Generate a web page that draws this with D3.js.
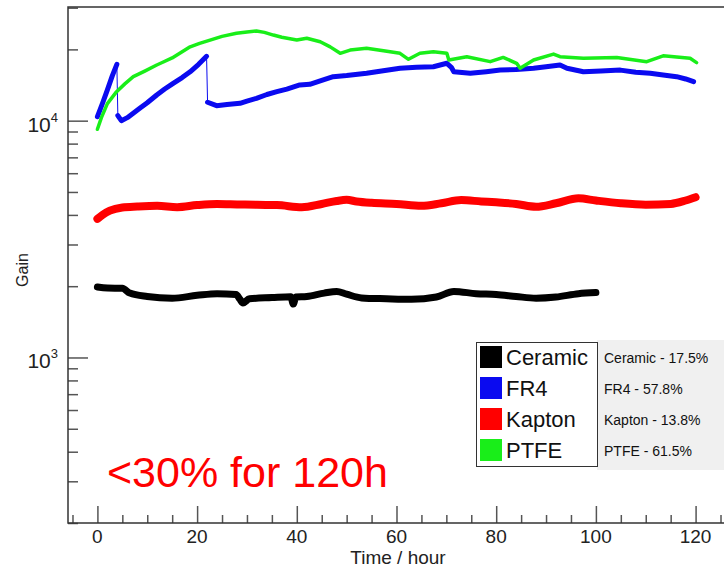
<!DOCTYPE html>
<html>
<head>
<meta charset="utf-8">
<script src="https://cdn.jsdelivr.net/npm/d3@7"></script>
<style>
  body { margin: 0; background: #fff; }
  svg { display: block; font-family: "Liberation Sans", Arial, sans-serif; }
</style>
</head>
<body>
<div id="chart"></div>
<script>

// series (hours, gain)
var ceramicHours = [0, 2, 5, 6.5, 10, 15, 20, 24, 27.8, 28.6, 29.2, 30.5, 35, 38.8, 39.3, 39.8, 42, 45.5, 48, 50, 53, 58, 63, 68, 71.5, 76, 80, 84, 88, 92, 96.5, 100];
var ceramicGain  = [1985, 1965, 1960, 1870, 1810, 1780, 1830, 1860, 1845, 1760, 1700, 1770, 1790, 1805, 1680, 1800, 1810, 1870, 1900, 1850, 1785, 1770, 1760, 1800, 1900, 1860, 1845, 1810, 1780, 1800, 1860, 1880];

var fr4Hours = [0, 1, 2, 3, 3.9, 4.1, 4.8, 6, 8.5, 10, 11.9, 13.5, 15.2, 17, 18.6, 20.3, 21.9,
                22.1, 23.9, 26, 28.6, 30, 31.9, 34, 36, 38, 40.6, 42.6, 45, 47.3, 50, 54, 57, 60.7, 64, 67.4, 70.1, 71, 71.5, 74.8, 78, 80.8, 84, 87.5, 90, 92.8, 94.2, 97.5, 101, 104.9, 108, 110.9, 113.5, 116.2, 118, 119.6];
var fr4Gain  = [10400, 11800, 13500, 15500, 17300, 10500, 10000, 10300, 11280, 11900, 12840, 13600, 14380, 15200, 16090, 17300, 18700,
                11960, 11570, 11700, 11840, 12100, 12430, 12900, 13260, 13600, 14150, 14240, 14800, 15340, 15500, 15850, 16200, 16640, 16800, 16900, 17470, 16800, 16100, 15850, 16100, 16350, 16450, 16640, 16900, 17180, 16640, 16090, 16200, 16350, 16000, 15850, 15600, 15340, 15000, 14610];
// hours where the FR4 curve jumps (drawn as a thin connector)
var fr4Jumps = [4, 22];

var kaptonHours = [0, 1, 2.5, 5, 8, 12, 16, 20, 24, 28, 32, 36, 41, 45, 48, 50, 52, 55, 60, 65, 69, 73, 77, 80, 84, 88, 92, 96.5, 100, 105, 110, 115, 118, 120];
var kaptonGain  = [3850, 4000, 4170, 4300, 4340, 4370, 4310, 4400, 4450, 4430, 4410, 4400, 4310, 4450, 4580, 4630, 4560, 4500, 4450, 4370, 4480, 4620, 4560, 4520, 4450, 4330, 4480, 4700, 4600, 4480, 4420, 4450, 4600, 4750];

var ptfeHours = [0, 0.8, 2, 3.85, 5.5, 7.2, 9.5, 11.9, 13, 15, 18.6, 20.5, 22.6, 25, 27.9, 30, 31.9, 33.5, 35.3, 37, 40, 42, 44.7, 46.7, 48.7, 50.7, 54, 57.4, 60.7, 62.4, 64.7, 67.4, 70.1, 70.5, 74.1, 78.8, 81.4, 84.1, 84.8, 87.5, 91.5, 92.8, 97.5, 104.2, 110.2, 113.5, 118.9, 120.2];
var ptfeGain  = [9200, 10300, 11800, 13260, 14300, 15340, 16200, 17180, 17600, 18400, 20510, 21200, 21900, 22700, 23380, 23700, 23900, 23600, 22990, 22500, 21900, 22300, 21540, 20500, 19250, 19870, 20210, 19740, 19250, 18160, 19250, 19550, 19250, 18050, 18620, 17750, 18500, 17470, 16640, 18030, 19110, 18620, 18340, 18500, 17750, 18790, 18340, 17580];

var seriesNames  = ["Ceramic", "FR4", "Kapton", "PTFE"];
var seriesColors = ["#000000", "#0a0af0", "#ff0000", "#19ee19"];
var variations   = ["Ceramic - 17.5%", "FR4 - 57.8%", "Kapton - 13.8%", "PTFE - 61.5%"];

var xMajor = [0, 20, 40, 60, 80, 100, 120];
var yMajor = [1000, 10000];
var note = "<30% for 120h";

var width = 724, height = 570;
var plotLeft = 68, plotTop = 7, plotBottom = 523;

var svg = d3.select("#chart").append("svg")
    .attr("width", width)
    .attr("height", height);

var x = d3.scaleLinear().domain([-5.9, 125.7]).range([plotLeft, width]);
var y = d3.scaleLog().domain([200, 30200]).range([plotBottom, plotTop]);

function zip(h, g) { return h.map(function(d, i) { return {h: d, g: g[i]}; }); }

var series = [
    {name: "Ceramic", pts: zip(ceramicHours, ceramicGain), w: 7, curve: d3.curveMonotoneX},
    {name: "FR4", pts: zip(fr4Hours, fr4Gain), w: 5, curve: d3.curveLinear},
    {name: "Kapton", pts: zip(kaptonHours, kaptonGain), w: 8, curve: d3.curveMonotoneX},
    {name: "PTFE", pts: zip(ptfeHours, ptfeGain), w: 3.5, curve: d3.curveLinear}
];

// red note behind data
svg.append("text")
    .attr("x", 107).attr("y", 487)
    .style("font-size", "43px")
    .style("fill", "#ff0000")
    .text(note);

// lines
series.forEach(function(s, i) {
    var color = seriesColors[i];
    var line = d3.line().curve(s.curve)
        .x(function(d) { return x(d.h); })
        .y(function(d) { return y(d.g); });
    var segs = [s.pts];
    if (s.name == "FR4") {
        // thin connector across the jumps, thick pieces between
        svg.append("path").attr("d", d3.line().x(function(d){return x(d.h);}).y(function(d){return y(d.g);})(s.pts))
            .attr("fill", "none").attr("stroke", color).attr("stroke-width", 1);
        segs = [];
        var edges = [-1].concat(fr4Jumps).concat([999]);
        for (var k = 0; k < edges.length - 1; k++) {
            segs.push(s.pts.filter(function(d) { return d.h > edges[k] && d.h < edges[k + 1]; }));
        }
    }
    segs.forEach(function(seg) {
        svg.append("path")
            .attr("d", line(seg))
            .attr("fill", "none")
            .attr("stroke", color)
            .attr("stroke-width", s.w)
            .attr("stroke-linejoin", "round")
            .attr("stroke-linecap", "round");
    });
});

// y axis, ticks inward
var yTicks = [];
[100, 1000, 10000].forEach(function(dec) {
    d3.range(1, 10).forEach(function(m) {
        var v = dec * m;
        if (v >= 200 && v <= 30200) yTicks.push(v);
    });
});
var yAxis = svg.append("g").attr("transform", "translate(" + plotLeft + ",0)")
    .call(d3.axisRight(y).tickValues(yTicks).tickSize(10).tickFormat(""));
yAxis.selectAll(".tick line")
    .attr("x2", function(d) { return yMajor.indexOf(d) >= 0 ? 20 : 10; });
yAxis.select(".domain").remove();

yMajor.forEach(function(v) {
    var t = svg.append("text")
        .attr("x", 58).attr("y", y(v) + 11)
        .attr("text-anchor", "end")
        .style("font-size", "21px")
        .style("fill", "#222");
    t.append("tspan").text("10");
    t.append("tspan").attr("dy", -10).style("font-size", "13px").text(Math.round(Math.log10(v)));
});

// x axis, ticks pointing up
var xTicks = d3.range(-5, 126, 5);
var xAxis = svg.append("g").attr("transform", "translate(0," + plotBottom + ")")
    .call(d3.axisTop(x).tickValues(xTicks).tickSize(8).tickFormat(""));
xAxis.selectAll(".tick line")
    .attr("y2", function(d) { return xMajor.indexOf(d) >= 0 ? -17 : -8; });
xAxis.select(".domain").remove();

svg.selectAll(".tick line").attr("stroke", "#555").attr("stroke-width", 1.5);

svg.selectAll("text.xlab").data(xMajor).enter().append("text")
    .attr("class", "xlab")
    .attr("x", function(d) { return x(d); })
    .attr("y", 543)
    .attr("text-anchor", "middle")
    .style("font-size", "19px")
    .style("fill", "#222")
    .text(function(d) { return d; });

// frame
svg.append("path")
    .attr("d", "M" + (width + 2) + "," + plotTop + "H" + plotLeft + "V" + plotBottom + "H" + (width + 2))
    .attr("fill", "none").attr("stroke", "#333").attr("stroke-width", 1.5);

svg.append("text")
    .attr("x", 398).attr("y", 564)
    .attr("text-anchor", "middle")
    .style("font-size", "19px")
    .style("fill", "#222")
    .text("Time / hour");

svg.append("text")
    .attr("transform", "translate(28,270) rotate(-90)")
    .attr("text-anchor", "middle")
    .style("font-size", "16px")
    .style("fill", "#222")
    .text("Gain");

// legend
svg.append("rect").attr("x", 597).attr("y", 340).attr("width", 130).attr("height", 130)
    .attr("fill", "#f0f0f0");
svg.append("rect").attr("x", 476.5).attr("y", 342.5).attr("width", 121).attr("height", 124)
    .attr("fill", "#fff").attr("stroke", "#333").attr("stroke-width", 1);

var rowH = 31;
seriesNames.forEach(function(n, i) {
    var cy = 357 + i * rowH;
    svg.append("rect").attr("x", 480).attr("y", cy - 11).attr("width", 22).attr("height", 22)
        .attr("fill", seriesColors[i]);
    svg.append("text").attr("x", 506).attr("y", cy + 8)
        .style("font-size", "22px").style("fill", "#111").text(n);
    svg.append("text").attr("x", 604).attr("y", cy + 6)
        .style("font-size", "14px").style("fill", "#111").text(variations[i]);
});

</script>
</body>
</html>
